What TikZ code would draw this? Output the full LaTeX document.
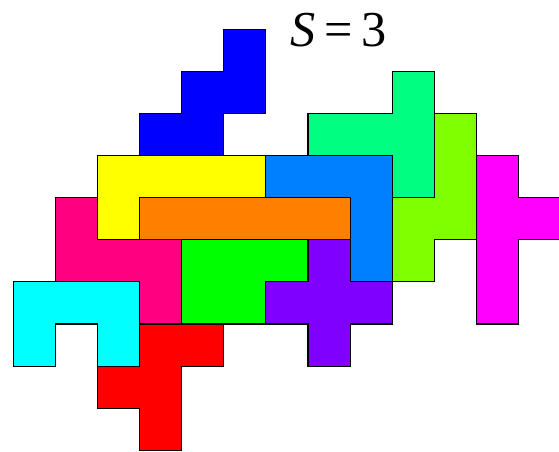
\documentclass[tikz,border=0pt]{standalone}
\usepackage{fontspec}
\setmainfont{Liberation Serif}
\definecolor{pW}{HTML}{0000FF}
\definecolor{pL}{HTML}{FFFF00}
\definecolor{pI}{HTML}{FF8000}
\definecolor{pV}{HTML}{0080FF}
\definecolor{pT}{HTML}{00FF80}
\definecolor{pN}{HTML}{80FF00}
\definecolor{pY}{HTML}{FF00FF}
\definecolor{pZ}{HTML}{FF0080}
\definecolor{pU}{HTML}{00FFFF}
\definecolor{pP}{HTML}{00FF00}
\definecolor{pX}{HTML}{8000FF}
\definecolor{pF}{HTML}{FF0000}
\tikzset{piece/.style={draw=black, line width=0.7pt, line join=miter, fill=#1}}
\begin{document}
\begin{tikzpicture}[x=1cm, y=-1cm]
\useasboundingbox (-0.316,-0.696) rectangle (12.962,10.017);
\clip (-0.316,-0.696) rectangle (12.962,10.017);
% W (blue)
\draw[piece=pW] (5,0) -- (6,0) -- (6,2) -- (5,2) -- (5,3) -- (3,3) -- (3,2) -- (4,2) -- (4,1) -- (5,1) -- cycle;
% L (yellow)
\draw[piece=pL] (2,3) -- (6,3) -- (6,4) -- (3,4) -- (3,5) -- (2,5) -- cycle;
% I (orange)
\draw[piece=pI] (3,4) -- (8,4) -- (8,5) -- (3,5) -- cycle;
% V (azure)
\draw[piece=pV] (6,3) -- (9,3) -- (9,6) -- (8,6) -- (8,4) -- (6,4) -- cycle;
% T (spring green)
\draw[piece=pT] (9,1) -- (10,1) -- (10,4) -- (9,4) -- (9,3) -- (7,3) -- (7,2) -- (9,2) -- cycle;
% N (chartreuse)
\draw[piece=pN] (10,2) -- (11,2) -- (11,5) -- (10,5) -- (10,6) -- (9,6) -- (9,4) -- (10,4) -- cycle;
% Y (magenta)
\draw[piece=pY] (11,3) -- (12,3) -- (12,4) -- (13,4) -- (13,5) -- (12,5) -- (12,7) -- (11,7) -- cycle;
% Z (rose)
\draw[piece=pZ] (1,4) -- (2,4) -- (2,5) -- (4,5) -- (4,7) -- (3,7) -- (3,6) -- (1,6) -- cycle;
% U (cyan)
\draw[piece=pU] (0,6) -- (3,6) -- (3,8) -- (2,8) -- (2,7) -- (1,7) -- (1,8) -- (0,8) -- cycle;
% P (green)
\draw[piece=pP] (4,5) -- (7,5) -- (7,6) -- (6,6) -- (6,7) -- (4,7) -- cycle;
% X (violet)
\draw[piece=pX] (7,5) -- (8,5) -- (8,6) -- (9,6) -- (9,7) -- (8,7) -- (8,8) -- (7,8) -- (7,7) -- (6,7) -- (6,6) -- (7,6) -- cycle;
% F (red)
\draw[piece=pF] (3,7) -- (5,7) -- (5,8) -- (4,8) -- (4,10) -- (3,10) -- (3,9) -- (2,9) -- (2,8) -- (3,8) -- cycle;
% label
\node[anchor=base, inner sep=0pt, font=\fontsize{34}{40}\selectfont] (lbl) at (7.73,0.42) {\textit{S}\hspace{0.18em}=\hspace{0.18em}3};
\end{tikzpicture}
\end{document}
